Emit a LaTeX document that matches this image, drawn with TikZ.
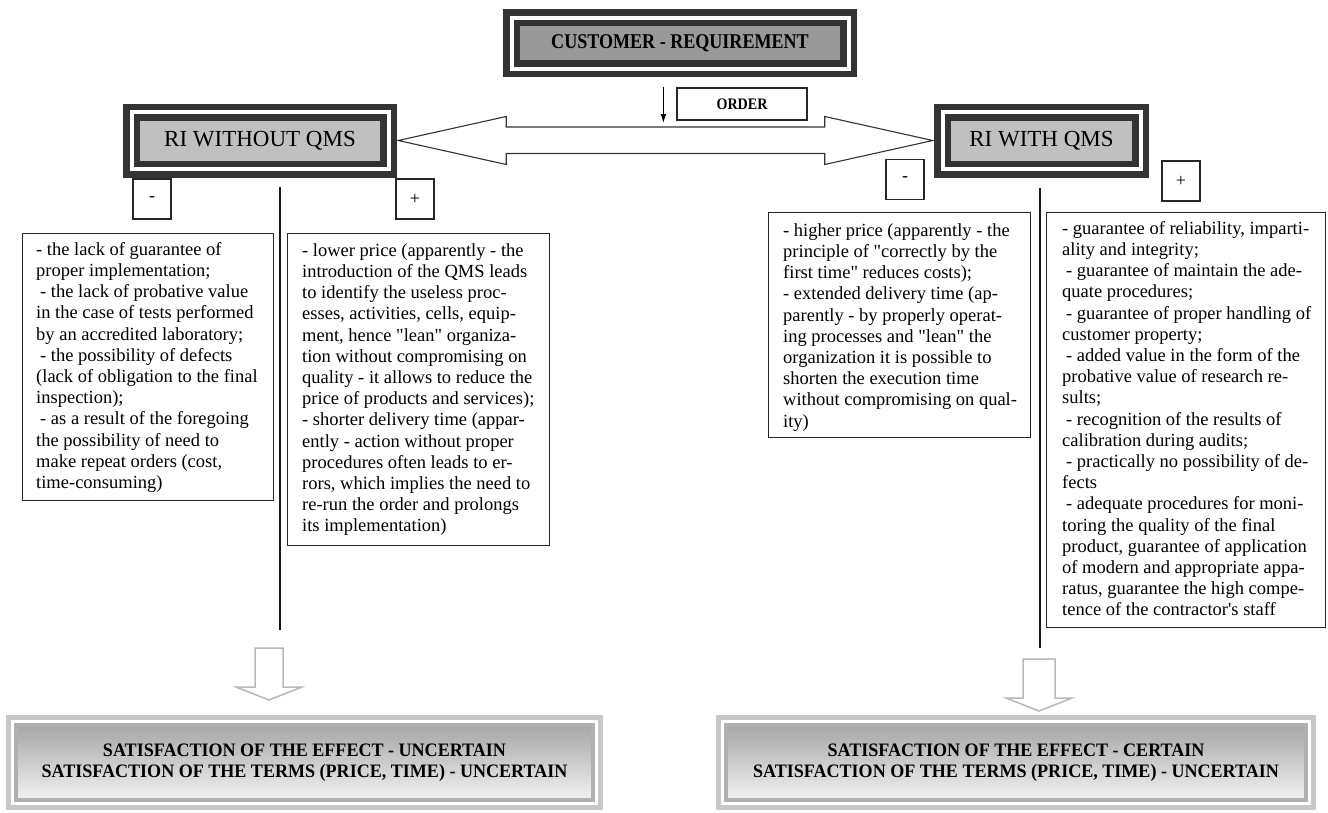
\documentclass[tikz,border=0pt]{standalone}
\usepackage{graphicx}
\usepackage{fontspec}
\setmainfont{Liberation Serif}
\usetikzlibrary{calc,shadings,arrows.meta}
\definecolor{dframe}{HTML}{333333}
\definecolor{topfill}{HTML}{999999}
\definecolor{sidefill}{HTML}{C0C0C0}
\definecolor{lgray}{HTML}{C8C8C8}
\definecolor{mgray}{HTML}{B0B0B0}
\definecolor{harrow}{HTML}{B8B8B8}
\definecolor{shtop}{HTML}{A6A6A6}
\definecolor{shbot}{HTML}{F2F2F2}
\newcommand{\qq}{\textquotedbl}
\newcommand{\condensed}[2]{\scalebox{#1}[1]{#2}}
\begin{document}
\begin{tikzpicture}[x=1pt,y=-1pt,
  hdr/.style={draw=dframe, line width=6.5pt, double=white, double distance=4pt,
    rectangle, inner sep=0pt},
  topbox/.style={hdr, fill=topfill, font=\fontsize{21}{24}\selectfont\bfseries},
  sidebox/.style={hdr, fill=sidefill, font=\fontsize{23}{27}\selectfont},
  tbox/.style={draw=black!85, line width=1.2pt, rectangle, anchor=north west, inner sep=0pt},
  ttext/.style={anchor=north west, inner sep=0pt, align=left,
    font=\fontsize{18.5}{21.2}\selectfont},
  signbox/.style={draw=black!85, line width=1.2pt, rectangle, inner sep=0pt,
    minimum width=38pt, minimum height=40pt, font=\fontsize{18}{20}\selectfont},
  vline/.style={line width=1.5pt, draw=black!90},
  hollow/.style={draw=harrow, line width=1.5pt, fill=white, line join=miter},
  bigarrow/.style={draw=black!80, line width=1.1pt, fill=white, line join=miter},
  resout/.style={draw=lgray, line width=5pt, rectangle, fill=white, inner sep=0pt},
  resin/.style={draw=mgray, line width=4pt, rectangle, inner sep=0pt,
    top color=shtop, bottom color=shbot, align=center,
    font=\fontsize{19}{21}\selectfont\bfseries},
  ordbox/.style={draw=black!85, line width=1.2pt, rectangle, inner sep=0pt,
    minimum width=130pt, minimum height=32pt, font=\fontsize{16}{18}\selectfont\bfseries}
]
\useasboundingbox[fill=white] (0,0) rectangle (1328,812);

% header boxes
\node[topbox, minimum width=337pt, minimum height=51pt] (cust) at (680,43) {\condensed{0.86}{CUSTOMER - REQUIREMENT}};
\node[sidebox, minimum width=257pt, minimum height=57pt] (lhead) at (260,140.5) {RI WITHOUT QMS};
\node[sidebox, minimum width=198pt, minimum height=57pt] (rhead) at (1041.5,140.5) {RI WITH QMS};

% order box and arrow
\node[ordbox] (order) at (742,104) {\condensed{0.88}{ORDER}};
\coordinate (oa1) at ($(order.west)+(-13,-17)$);
\coordinate (oa2) at ($(order.west)+(-13,19)$);
\draw[line width=1.2pt, -{Latex[length=9pt,width=6pt]}] (oa1) -- (oa2);

% double arrow between the two RI boxes
\coordinate (tl) at ($(lhead.east)+(6.5,0)$);
\coordinate (tr) at ($(rhead.west)+(-6.5,0)$);
\draw[bigarrow] (tl) -- ($(tl)+(108,-24)$) -- ($(tl)+(108,-13.5)$)
  -- ($(tr)+(-108,-13.5)$) -- ($(tr)+(-108,-24)$) -- (tr)
  -- ($(tr)+(-108,24)$) -- ($(tr)+(-108,13)$)
  -- ($(tl)+(108,13)$) -- ($(tl)+(108,24)$) -- cycle;

% sign boxes
\node[signbox] (lminus) at (152,199) {-};
\node[signbox] (lplus) at (415,199) {+};
\node[signbox] (rminus) at (905,179.5) {-};
\node[signbox] (rplus) at (1181,181) {+};

% text boxes
\node[tbox, minimum width=251pt, minimum height=267pt] (lb1) at (22,233) {};
\node[ttext] (lb1t) at ($(lb1.north west)+(14,7)$) {\rule{0pt}{15pt}- the lack of guarantee of\\
proper implementation;\\
\hspace*{4pt}- the lack of probative value\\
in the case of tests performed\\
by an accredited laboratory;\\
\hspace*{4pt}- the possibility of defects\\
(lack of obligation to the final\\
inspection);\\
\hspace*{4pt}- as a result of the foregoing\\
the possibility of need to\\
make repeat orders (cost,\\
time-consuming)};

\node[tbox, minimum width=262pt, minimum height=312pt] (lb2) at (287,233) {};
\node[ttext] (lb2t) at ($(lb2.north west)+(15,8)$) {\rule{0pt}{15pt}- lower price (apparently - the\\
introduction of the QMS leads\\
to identify the useless proc-\\
esses, activities, cells, equip-\\
ment, hence \qq lean\qq{} organiza-\\
tion without compromising on\\
quality - it allows to reduce the\\
price of products and services);\\
- shorter delivery time (appar-\\
ently - action without proper\\
procedures often leads to er-\\
rors, which implies the need to\\
re-run the order and prolongs\\
its implementation)};

\node[tbox, minimum width=262pt, minimum height=225pt] (rb1) at (768,212) {};
\node[ttext] (rb1t) at ($(rb1.north west)+(15,9)$) {\rule{0pt}{15pt}- higher price (apparently - the\\
principle of \qq correctly by the\\
first time\qq{} reduces costs);\\
- extended delivery time (ap-\\
parently - by properly operat-\\
ing processes and \qq lean\qq{} the\\
organization it is possible to\\
shorten the execution time\\
without compromising on qual-\\
ity)};

\node[tbox, minimum width=279pt, minimum height=415pt] (rb2) at (1046,212) {};
\node[ttext] (rb2t) at ($(rb2.north west)+(16,7)$) {\rule{0pt}{15pt}- guarantee of reliability, imparti-\\
ality and integrity;\\
\hspace*{4pt}- guarantee of maintain the ade-\\
quate procedures;\\
\hspace*{4pt}- guarantee of proper handling of\\
customer property;\\
\hspace*{4pt}- added value in the form of the\\
probative value of research re-\\
sults;\\
\hspace*{4pt}- recognition of the results of\\
calibration during audits;\\
\hspace*{4pt}- practically no possibility of de-\\
fects\\
\hspace*{4pt}- adequate procedures for moni-\\
toring the quality of the final\\
product, guarantee of application\\
of modern and appropriate appa-\\
ratus, guarantee the high compe-\\
tence of the contractor\textquotesingle s staff};

% result boxes
\node[resout, minimum width=592pt, minimum height=90pt] (res1) at (304.5,762.5) {};
\node[resin, minimum width=577pt, minimum height=75pt] (res1in) at (res1.center) {\condensed{0.95}{SATISFACTION OF THE EFFECT - UNCERTAIN}\\\condensed{0.95}{SATISFACTION OF THE TERMS (PRICE, TIME) - UNCERTAIN}};
\node[resout, minimum width=595pt, minimum height=90pt] (res2) at (1016,762.5) {};
\node[resin, minimum width=580pt, minimum height=75pt] (res2in) at (res2.center) {\condensed{0.95}{SATISFACTION OF THE EFFECT - CERTAIN}\\\condensed{0.95}{SATISFACTION OF THE TERMS (PRICE, TIME) - UNCERTAIN}};

% hollow down arrows
\coordinate (la) at (269,648);
\coordinate (ra) at (1039,659);
\draw[hollow] ($(la)+(-14,0)$) -- ($(la)+(14,0)$) -- ($(la)+(14,39)$) -- ($(la)+(33,39)$)
  -- ($(la)+(0,52)$) -- ($(la)+(-33,39)$) -- ($(la)+(-14,39)$) -- cycle;
\draw[hollow] ($(ra)+(-16,0)$) -- ($(ra)+(16,0)$) -- ($(ra)+(16,39)$) -- ($(ra)+(33,39)$)
  -- ($(ra)+(0,52)$) -- ($(ra)+(-33,39)$) -- ($(ra)+(-16,39)$) -- cycle;

% vertical lines
\coordinate (lv1) at ($(lhead.south)+(20,14.5)$);
\coordinate (lv2) at ($(la)+(11,-18)$);
\draw[vline] (lv1) -- (lv2);
\coordinate (rv1) at ($(rhead.south)+(-1.5,16)$);
\coordinate (rv2) at ($(ra)+(1,-11)$);
\draw[vline] (rv1) -- (rv2);
\end{tikzpicture}
\end{document}
